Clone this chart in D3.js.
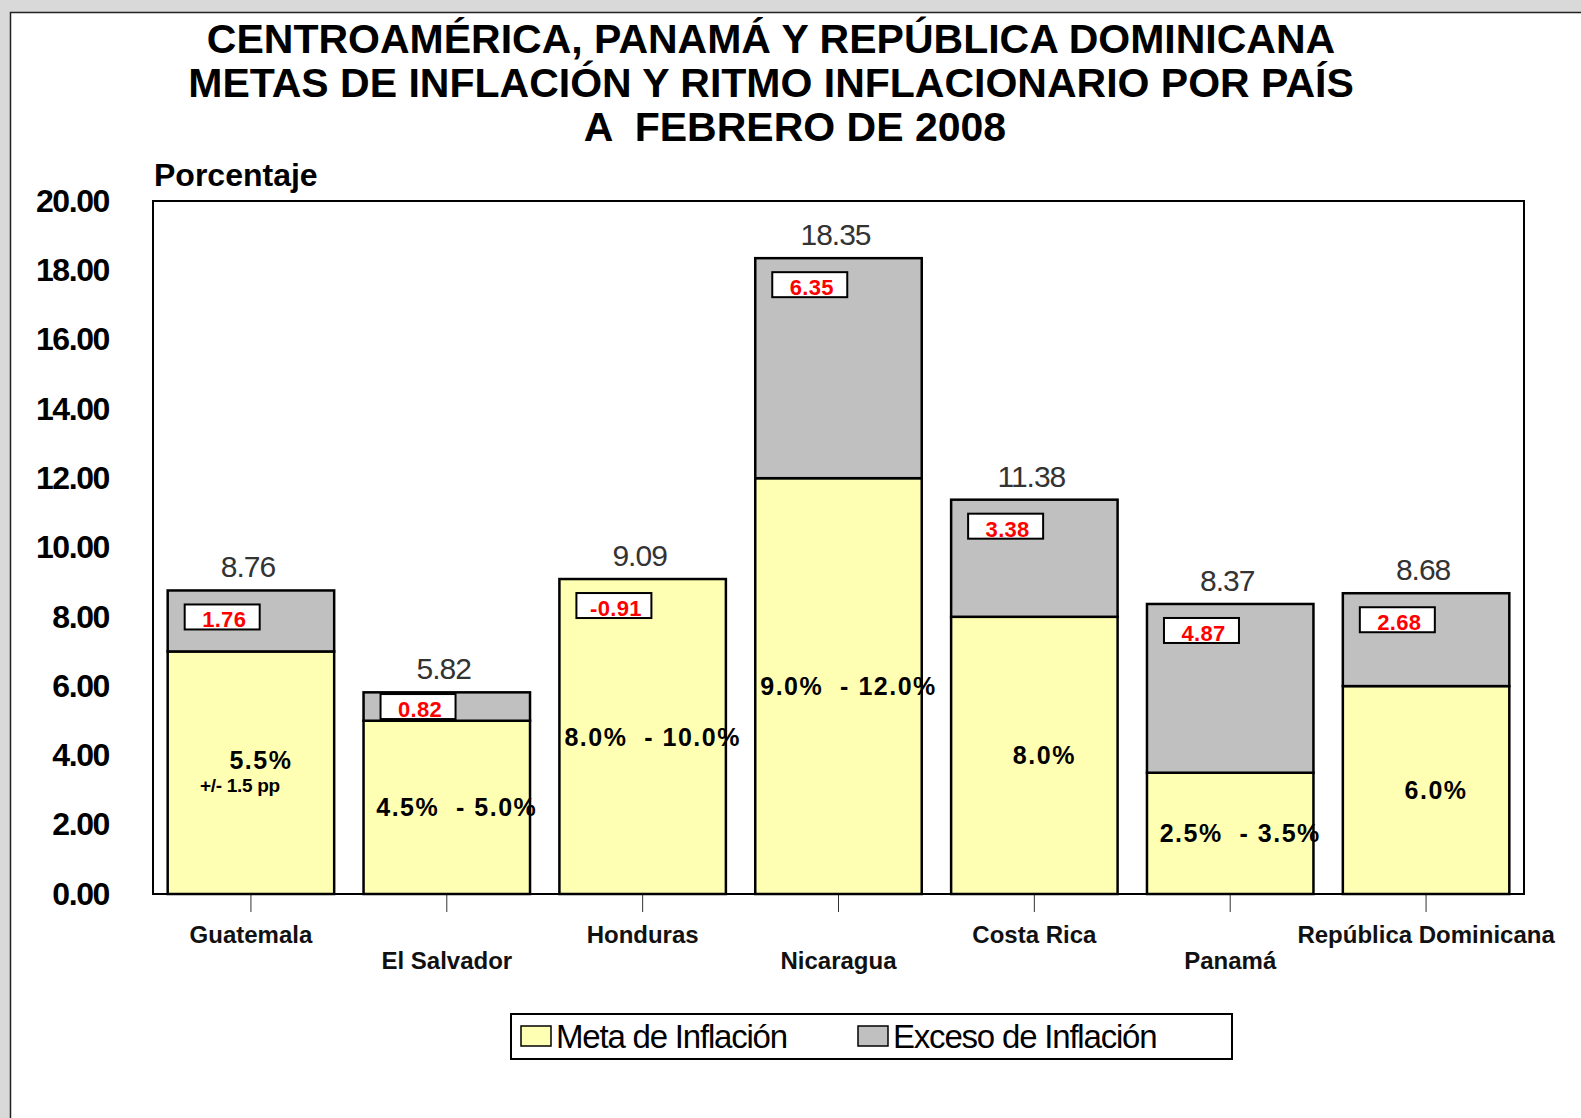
<!DOCTYPE html>
<html>
<head>
<meta charset="utf-8">
<script src="https://cdn.jsdelivr.net/npm/d3@7"></script>
<style>
  body { margin: 0; background: #d9d9d9; }
  svg { display: block; font-family: "Liberation Sans", Arial, sans-serif; }
</style>
</head>
<body>
<div class="chart"></div>
<script>
// data
const categories = ["Guatemala", "El Salvador", "Honduras", "Nicaragua", "Costa Rica", "Panamá", "República Dominicana"]
const metaSuperior = [7.0, 5.0, 10.0, 12.0, 8.0, 3.5, 6.0]
const inflacion = [8.76, 5.82, 9.09, 18.35, 11.38, 8.37, 8.68]
const exceso = [1.76, 0.82, -0.91, 6.35, 3.38, 4.87, 2.68]
const metaTexto = ["5.5%", "4.5%  - 5.0%", "8.0%  - 10.0%", "9.0%  - 12.0%", "8.0%", "2.5%  - 3.5%", "6.0%"]
const metaNota = ["+/- 1.5 pp", "", "", "", "", "", ""]
const yTicks = [0, 2, 4, 6, 8, 10, 12, 14, 16, 18, 20]
const titulo = ["CENTROAMÉRICA, PANAMÁ Y REPÚBLICA DOMINICANA",
                "METAS DE INFLACIÓN Y RITMO INFLACIONARIO POR PAÍS",
                "A  FEBRERO DE 2008"]
const leyenda = ["Meta de Inflación", "Exceso de Inflación"]

const width = 1581
const height = 1118
const plot = { left: 153, right: 1524, top: 201, bottom: 894 }
const yellow = "#ffffb3"
const gray = "#c0c0c0"

// stack rows: yellow part up to min(meta, inflación), gray part above the meta
const rows = categories.map((c, i) => ({
    pais: c,
    meta: Math.min(metaSuperior[i], inflacion[i]),
    exceso: Math.max(inflacion[i] - metaSuperior[i], 0),
    total: inflacion[i],
    dif: exceso[i],
    texto: metaTexto[i],
    nota: metaNota[i]
}))

const series = d3.stack().keys(["meta", "exceso"])(rows)

const x = d3.scaleBand()
    .domain(categories)
    .range([plot.left, plot.right])
    .paddingInner(0.15)
    .paddingOuter(0.075)

const y = d3.scaleLinear()
    .domain([0, 20])
    .range([plot.bottom, plot.top])

const svg = d3.select(".chart")
    .append("svg")
    .attr("width", width)
    .attr("height", height)

// white panel
svg.append("rect")
    .attr("x", 10.5).attr("y", 12.5)
    .attr("width", width + 20).attr("height", height + 20)
    .attr("fill", "white")
    .attr("stroke", "#222")
    .attr("stroke-width", 1.5)

// title (last line sits a bit to the right in the original)
svg.append("g")
    .selectAll("text")
    .data(titulo)
    .join("text")
    .attr("x", (d, i) => i === 2 ? 795 : 771)
    .attr("y", (d, i) => 53 + i * 44)
    .attr("text-anchor", "middle")
    .attr("font-size", 41)
    .attr("font-weight", "bold")
    .style("white-space", "pre")
    .text(d => d)

svg.append("text")
    .attr("x", 154)
    .attr("y", 186)
    .attr("font-size", 32)
    .attr("font-weight", "bold")
    .attr("letter-spacing", 0)
    .text("Porcentaje")

// y axis labels
svg.append("g")
    .attr("transform", `translate(${plot.left},0)`)
    .call(d3.axisLeft(y).tickValues(yTicks).tickSize(0).tickPadding(44).tickFormat(d3.format(".2f")))
    .call(g => g.select(".domain").remove())
    .call(g => g.selectAll("text")
        .attr("font-size", 32)
        .attr("font-weight", "bold")
        .attr("letter-spacing", -1.4)
        .attr("fill", "black")
        .attr("font-family", "Liberation Sans, Arial, sans-serif"))

// x axis ticks and staggered labels
svg.append("g")
    .attr("transform", `translate(0,${plot.bottom})`)
    .call(d3.axisBottom(x).tickSize(18).tickSizeOuter(0))
    .call(g => g.select(".domain").remove())
    .call(g => g.selectAll("line").attr("stroke", "#333"))
    .call(g => g.selectAll("text")
        .attr("dy", 0)
        .attr("y", (d, i) => i % 2 ? 75 : 49)
        .attr("font-size", 24)
        .attr("font-weight", "bold")
        .attr("letter-spacing", 0)
        .attr("fill", "#111")
        .attr("font-family", "Liberation Sans, Arial, sans-serif"))

// plot frame
svg.append("rect")
    .attr("x", plot.left).attr("y", plot.top)
    .attr("width", plot.right - plot.left).attr("height", plot.bottom - plot.top)
    .attr("fill", "none")
    .attr("stroke", "black")
    .attr("stroke-width", 2)

// bars
svg.append("g")
    .selectAll("g")
    .data(series)
    .join("g")
    .attr("fill", d => d.key === "meta" ? yellow : gray)
    .selectAll("rect")
    .data(d => d.filter(s => s[1] > s[0]))
    .join("rect")
    .attr("x", d => x(d.data.pais))
    .attr("y", d => y(d[1]))
    .attr("width", x.bandwidth())
    .attr("height", d => y(d[0]) - y(d[1]))
    .attr("stroke", "black")
    .attr("stroke-width", 2.5)

// totals above bars
svg.append("g")
    .selectAll("text")
    .data(rows)
    .join("text")
    .attr("x", d => x(d.pais) + x.bandwidth() / 2 - 3)
    .attr("y", d => y(d.total) - 13)
    .attr("text-anchor", "middle")
    .attr("font-size", 30)
    .attr("letter-spacing", -1)
    .attr("fill", "#333")
    .text(d => d.total.toFixed(2))

// red boxes with the gap to the meta
const boxW = 75, boxH = 25
const boxY = d => {
    const top = y(d.total)
    if (d.exceso > 0) {
        const gh = y(d.meta) - top
        return top + Math.min(14, (gh - boxH) / 2)
    }
    return top + 14
}
const boxes = svg.append("g")
    .selectAll("g")
    .data(rows)
    .join("g")
    .attr("transform", d => `translate(${x(d.pais) + 17},${boxY(d)})`)

boxes.append("rect")
    .attr("width", boxW)
    .attr("height", boxH)
    .attr("fill", "white")
    .attr("stroke", "black")
    .attr("stroke-width", 2)

boxes.append("text")
    .attr("x", boxW / 2 + 2)
    .attr("y", boxH - 2)
    .attr("text-anchor", "middle")
    .attr("font-size", 22)
    .attr("font-weight", "bold")
    .attr("letter-spacing", 0.3)
    .attr("fill", "#ff0000")
    .text(d => d.dif.toFixed(2))

// meta labels inside the yellow part
const metaLab = svg.append("g")
    .selectAll("g")
    .data(rows)
    .join("g")
    .attr("transform", d => `translate(${x(d.pais) + x.bandwidth() / 2 + 10},${y(d.meta / 2)})`)

metaLab.append("text")
    .attr("y", d => d.nota ? -13 : 0)
    .attr("dominant-baseline", "central")
    .attr("text-anchor", "middle")
    .attr("font-size", 25)
    .attr("font-weight", "bold")
    .attr("letter-spacing", 1.5)
    .style("white-space", "pre")
    .text(d => d.texto)

metaLab.append("text")
    .attr("x", -21)
    .attr("y", 13)
    .attr("dominant-baseline", "central")
    .attr("text-anchor", "middle")
    .attr("font-size", 19)
    .attr("font-weight", "bold")
    .attr("letter-spacing", -0.3)
    .text(d => d.nota)

// legend
const lg = svg.append("g").attr("transform", "translate(511,1014)")
lg.append("rect")
    .attr("width", 721).attr("height", 45)
    .attr("fill", "white").attr("stroke", "black").attr("stroke-width", 2)

const items = lg.selectAll("g")
    .data(leyenda)
    .join("g")
    .attr("transform", (d, i) => `translate(${10 + i * 337},0)`)

items.append("rect")
    .attr("y", 12).attr("width", 30).attr("height", 20)
    .attr("fill", (d, i) => i ? gray : yellow)
    .attr("stroke", "black").attr("stroke-width", 1.5)

items.append("text")
    .attr("x", 35)
    .attr("y", 34)
    .attr("font-size", 33)
    .attr("letter-spacing", -1.2)
    .text(d => d)
</script>
</body>
</html>
